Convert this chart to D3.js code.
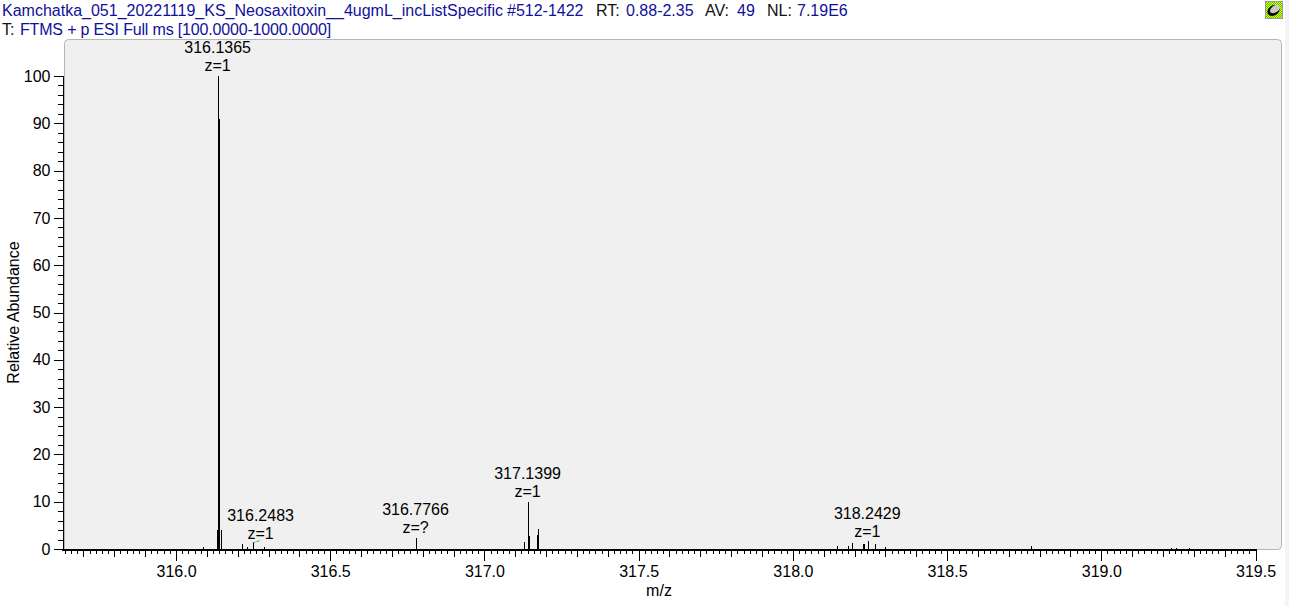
<!DOCTYPE html>
<html><head><meta charset="utf-8">
<script src="https://cdn.jsdelivr.net/npm/d3@7"></script>
<style>
html,body{margin:0;padding:0;background:#fff;overflow:hidden}
text{font-family:"Liberation Sans",Arial,sans-serif;font-size:16px;fill:#000}
.tick text{font-family:"Liberation Sans",Arial,sans-serif;font-size:16px}
.hdr{fill:#10109a}
.blk{fill:#111}
</style></head><body>
<svg id="c" width="1289" height="606"></svg>
<script>
// Data
const peakMz = [316.087,316.1335,316.1365,316.1385,316.1445,316.2130,316.2290,316.2483,316.2860,316.7766,316.7790,
  317.1280,317.1399,317.1425,317.1450,317.1710,317.1734,318.1425,318.1780,318.1925,318.2265,318.2310,318.2429,318.2445,318.2665,318.3000,318.7730,319.2260,319.2430,319.2850];
const peakInt = [0.5,4.0,100,91,4.0,1.0,0.4,1.3,0.5,2.3,2.3,
  1.5,10,8,2.7,3.0,4.2,0.6,0.7,1.2,1.0,1.1,1.6,1.2,1.0,0.5,0.6,0.2,0.2,0.2];
const labelMz = [316.1365,316.2483,316.7766,317.1399,318.2429];
const labelInt = [100,1.1,2.3,10,1.4];
const labelZ = ["z=1","z=1","z=?","z=1","z=1"];
const labelShift = [-0.5,8,0,0,-0.5];
const xMajor = [316.0,316.5,317.0,317.5,318.0,318.5,319.0,319.5];
const yMajor = [0,10,20,30,40,50,60,70,80,90,100];
const titleParts = [
  ["Kamchatka_051_20221119_KS_Neosaxitoxin__4ugmL_incListSpecific",2,"hdr"],
  ["#512-1422",507,"hdr"],["RT:",596,"blk"],["0.88-2.35",626,"hdr"],
  ["AV:",705,"blk"],["49",737,"hdr"],["NL:",767,"blk"],["7.19E6",797,"hdr"]];
const filterParts = [["T:",2,"blk"],["FTMS + p ESI Full ms [100.0000-1000.0000]",20,"hdr"]];

const svg = d3.select("#c");
const x = d3.scaleLinear().domain([315.632,319.5]).range([62.5,1255.5]);
const y = d3.scaleLinear().domain([0,100]).range([549,76]);

svg.append("rect").attr("x",1285).attr("y",0).attr("width",4).attr("height",606).attr("fill","#f4f4f4");

svg.selectAll(".t1").data(titleParts).join("text").attr("x",d=>d[1]).attr("y",16).attr("class",d=>d[2]).text(d=>d[0]);
svg.selectAll(".t2").data(filterParts).join("text").attr("x",d=>d[1]).attr("y",35).attr("class",d=>d[2]).attr("letter-spacing",d=>d[2]==="hdr"?-0.17:0).text(d=>d[0]);

svg.append("path").attr("d","M64.5,549.5V43.5Q64.5,39.5 68.5,39.5H1277.5Q1281.5,39.5 1281.5,43.5V545.5Q1281.5,549.5 1277.5,549.5Z")
  .attr("fill","#f0f0f0").attr("stroke","#b5b5b5").attr("stroke-width",1);

// icon
const defs = svg.append("defs");
const pat = defs.append("pattern").attr("id","chk").attr("width",2).attr("height",2).attr("patternUnits","userSpaceOnUse");
pat.append("rect").attr("width",2).attr("height",2).attr("fill","#f4f400");
pat.append("rect").attr("width",1).attr("height",1).attr("fill","#40d010");
pat.append("rect").attr("x",1).attr("y",1).attr("width",1).attr("height",1).attr("fill","#40d010");
const ic = svg.append("g").attr("transform","translate(1265,1)");
ic.append("rect").attr("x",.5).attr("y",.5).attr("width",17).attr("height",17).attr("fill","url(#chk)").attr("stroke","#999");
ic.append("ellipse").attr("cx",8.5).attr("cy",9.5).attr("rx",6.5).attr("ry",5).attr("transform","rotate(-35 8.5 9.5)").attr("fill","#000");
ic.append("ellipse").attr("cx",10).attr("cy",8).attr("rx",5.5).attr("ry",3.5).attr("transform","rotate(-35 10 8)").attr("fill","#c8c8c8");

// peaks
const line = d3.line().x(d=>Math.round(x(d[0]))+.5).y(d=>y(d[1]));
svg.selectAll(".pk").data(peakMz).join("path").attr("class","pk")
  .attr("d",(d,i)=>line([[d,0],[d,peakInt[i]]]))
  .attr("stroke","#000").attr("stroke-width",1).attr("fill","none").attr("shape-rendering","crispEdges");

// axes
function tidy(g){g.selectAll("path,line").attr("stroke","#000").attr("shape-rendering","crispEdges");g.selectAll("text").attr("fill","#000");}
const range = (a,b,s)=>d3.range(Math.round((b-a)/s)+1).map(i=>+(a+i*s).toFixed(2));
const xMinor = range(315.64,319.5,0.02);
const xMid = range(315.7,319.5,0.1);
const yMinor = range(0,100,2);
const xg = svg.append("g").attr("transform","translate(0,549.5)");
xg.append("g").call(d3.axisBottom(x).tickValues(xMinor).tickSize(4).tickSizeOuter(0).tickFormat("")).call(tidy).select(".domain").remove();
xg.append("g").call(d3.axisBottom(x).tickValues(xMid).tickSize(7).tickSizeOuter(0).tickFormat("")).call(tidy).select(".domain").remove();
xg.append("g").call(d3.axisBottom(x).tickValues(xMajor).tickSize(11).tickSizeOuter(0).tickPadding(5).tickFormat(d3.format(".1f"))).call(tidy).select(".domain").remove();
const yg = svg.append("g").attr("transform","translate(63.5,0)");
yg.append("g").call(d3.axisLeft(y).tickValues(yMinor).tickSize(6).tickSizeOuter(0).tickFormat("")).call(tidy).select(".domain").remove();
yg.append("g").call(d3.axisLeft(y).tickValues(yMajor).tickSize(10).tickSizeOuter(0).tickPadding(3)).call(tidy).select(".domain").remove();
svg.append("line").attr("x1",62).attr("x2",x(319.5)+1).attr("y1",549.5).attr("y2",549.5).attr("stroke","#000").attr("stroke-width",2).attr("shape-rendering","crispEdges");
svg.append("line").attr("x1",63.5).attr("x2",63.5).attr("y1",y(100)).attr("y2",y(0)).attr("stroke","#000").attr("shape-rendering","crispEdges");

// peak labels
const lab = svg.selectAll(".lab").data(labelMz).join("g").attr("class","lab")
  .attr("transform",(d,i)=>`translate(${x(d)+labelShift[i]},${y(labelInt[i])-5})`);
lab.append("text").attr("text-anchor","middle").attr("y",-18).text(d=>d.toFixed(4));
lab.append("text").attr("text-anchor","middle").text((d,i)=>labelZ[i]);
labelMz.forEach((d,i)=>{ if(labelShift[i]>1) svg.append("line")
  .attr("x1",x(d)).attr("y1",y(1.3)).attr("x2",x(d)+labelShift[i]).attr("y2",y(1.3)-2.5)
  .attr("stroke","#22b022").attr("stroke-width",1).attr("stroke-dasharray","3 1");});

svg.append("text").attr("x",659).attr("y",596).attr("text-anchor","middle").text("m/z");
svg.append("text").attr("transform","translate(19,312.5) rotate(-90)").attr("text-anchor","middle").text("Relative Abundance");
</script></body></html>
